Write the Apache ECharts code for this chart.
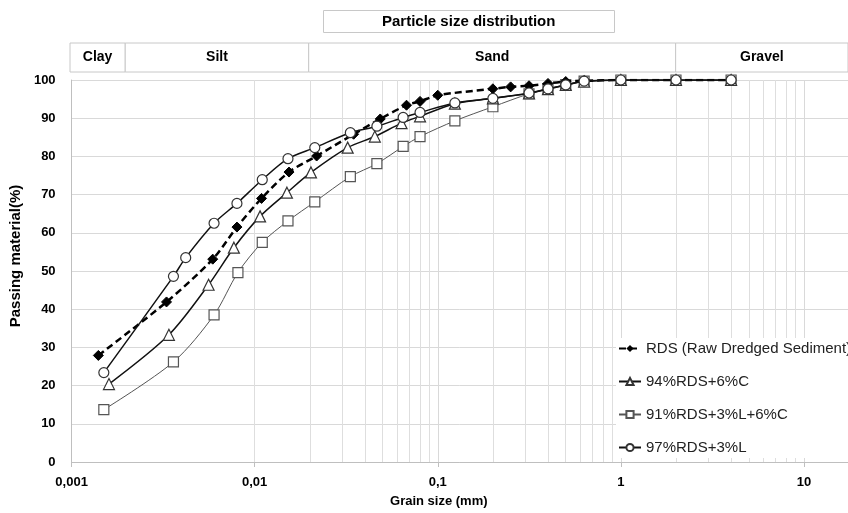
<!DOCTYPE html>
<html>
<head>
<meta charset="utf-8">
<script src="https://cdn.jsdelivr.net/npm/echarts@6/dist/echarts.min.js"></script>
<style>
  html, body { margin: 0; padding: 0; background: #fff; }
  #chart { width: 848px; height: 513px; }
</style>
</head>
<body>
<div id="chart"></div>
<script>
// grain size (mm) / passing (%)
const rdsX = [0.0014, 0.0033, 0.0059, 0.008, 0.0109, 0.0154, 0.0218, 0.0347, 0.0485, 0.0675, 0.08, 0.1, 0.2, 0.25, 0.315, 0.4, 0.5, 0.63, 1, 2, 4];
const rdsY = [27.9, 41.9, 53.1, 61.5, 69.0, 75.9, 80.1, 85.8, 89.8, 93.4, 94.4, 96.0, 97.7, 98.2, 98.5, 99.1, 99.6, 99.8, 100, 100, 100];

const cX = [0.0016, 0.0034, 0.0056, 0.0077, 0.0107, 0.015, 0.0203, 0.0322, 0.0453, 0.0634, 0.08, 0.124, 0.2, 0.315, 0.4, 0.5, 0.63, 1, 2, 4];
const cY = [20.4, 33.3, 46.4, 56.1, 64.3, 70.5, 75.8, 82.3, 85.2, 88.7, 90.5, 93.8, 95.2, 96.5, 97.6, 98.7, 99.6, 100, 100, 100];

const lcX = [0.0015, 0.0036, 0.006, 0.0081, 0.011, 0.0152, 0.0213, 0.0333, 0.0465, 0.0647, 0.08, 0.124, 0.2, 0.315, 0.4, 0.5, 0.63, 1, 2, 4];
const lcY = [13.7, 26.2, 38.5, 49.6, 57.5, 63.1, 68.1, 74.7, 78.1, 82.6, 85.2, 89.3, 93.0, 96.4, 97.7, 98.8, 99.7, 100, 100, 100];

const lX = [0.0015, 0.0036, 0.0042, 0.006, 0.008, 0.011, 0.0152, 0.0213, 0.0333, 0.0465, 0.0647, 0.08, 0.124, 0.2, 0.315, 0.4, 0.5, 0.63, 1, 2, 4];
const lY = [23.4, 48.6, 53.5, 62.5, 67.7, 73.9, 79.4, 82.3, 86.2, 87.9, 90.2, 91.5, 94.0, 95.2, 96.6, 97.7, 98.7, 99.7, 100, 100, 100];

const seriesNames = ["RDS (Raw Dredged Sediment)", "94%RDS+6%C", "91%RDS+3%L+6%C", "97%RDS+3%L"];

// soil classes: [from, to, name]
const classes = [
  [0.001, 0.002, "Clay"],
  [0.002, 0.02, "Silt"],
  [0.02, 2, "Sand"],
  [2, 20, "Gravel"]
];

const xMin = 0.001;
const xMax = 17.4;

// minor log grid lines 2..9 per decade
const minorGrid = [];
[0.001, 0.01, 0.1, 1, 10].forEach(d => {
  for (let k = 2; k <= 9; k++) {
    if (k * d < xMax) minorGrid.push(+(k * d).toPrecision(3));
  }
});

const zip = (xs, ys) => xs.map((x, i) => [x, ys[i]]);
const font = "Liberation Sans";

const chart = echarts.init(document.getElementById("chart"));

chart.setOption({
  animation: false,
  textStyle: { fontFamily: font },
  title: {
    text: "Particle size distribution",
    left: 323,
    top: 10,
    padding: [4, 59],
    borderColor: "#c8c8c8",
    borderWidth: 1,
    textStyle: { fontSize: 15, fontWeight: "bold", color: "#000", fontFamily: font }
  },
  legend: {
    orient: "vertical",
    left: 616,
    top: 338,
    z: 20,
    itemWidth: 22,
    itemHeight: 9,
    itemGap: 18,
    backgroundColor: "#fff",
    padding: [3, 2],
    textStyle: { fontSize: 15, color: "#222", fontFamily: font },
    data: seriesNames
  },
  grid: [
    { left: 70, right: 0, top: 80, bottom: 49 },
    { left: 70, right: 0, top: 43, height: 29 }
  ],
  xAxis: [
    {
      type: "log",
      logBase: 10,
      min: xMin,
      max: xMax,
      gridIndex: 0,
      name: "Grain size (mm)",
      nameLocation: "middle",
      nameGap: 33,
      nameTextStyle: { fontSize: 13, fontWeight: "bold", color: "#000", padding: [0, 42, 0, 0] },
      axisLine: { lineStyle: { color: "#bfbfbf" } },
      axisTick: { show: true, length: 5, lineStyle: { color: "#bfbfbf" } },
      axisLabel: {
        margin: 14,
        fontSize: 13,
        fontWeight: "bold",
        color: "#000",
        showMaxLabel: false,
        formatter: v => {
          const l = Math.log10(v);
          if (Math.abs(l - Math.round(l)) > 1e-6) return "";
          return String(+v.toPrecision(3)).replace(".", ",");
        }
      },
      splitLine: { show: true, lineStyle: { color: "#d9d9d9" } }
    },
    {
      type: "log",
      logBase: 10,
      min: xMin,
      max: xMax,
      gridIndex: 1,
      show: false
    }
  ],
  yAxis: [
    {
      type: "value",
      min: 0,
      max: 100,
      interval: 10,
      gridIndex: 0,
      name: "Passing material(%)",
      nameLocation: "middle",
      nameGap: 44,
      nameTextStyle: { fontSize: 15, fontWeight: "bold", color: "#000", padding: [0, 0, 0, 30] },
      axisLine: { show: true, lineStyle: { color: "#bfbfbf" } },
      axisTick: { show: false },
      axisLabel: { margin: 16, fontSize: 13, fontWeight: "bold", color: "#000" },
      splitLine: { show: true, lineStyle: { color: "#d9d9d9" } }
    },
    {
      type: "value",
      min: 0,
      max: 1,
      gridIndex: 1,
      show: false
    }
  ],
  series: [
    {
      name: "minor-grid",
      type: "line",
      data: [],
      silent: true,
      z: 1,
      markLine: {
        silent: true,
        symbol: "none",
        z: 1,
        label: { show: false },
        lineStyle: { color: "#dedede", type: "solid", width: 1 },
        data: minorGrid.map(v => ({ xAxis: v }))
      }
    },
    {
      name: "classes",
      type: "line",
      xAxisIndex: 1,
      yAxisIndex: 1,
      data: [],
      silent: true,
      markArea: {
        silent: true,
        itemStyle: { color: "#fff", borderColor: "#c8c8c8", borderWidth: 1 },
        label: {
          show: true,
          position: "inside",
          fontSize: 14,
          fontWeight: "bold",
          color: "#000",
          fontFamily: font
        },
        data: classes.map(c => [{ xAxis: c[0], name: c[2] }, { xAxis: c[1] }])
      }
    },
    {
      name: seriesNames[2],
      type: "line",
      smooth: 0.3,
      data: zip(lcX, lcY),
      symbol: "rect",
      symbolSize: 10,
      lineStyle: { color: "#555", width: 1 },
      itemStyle: { color: "#fff", borderColor: "#555", borderWidth: 1.2 },
      z: 3
    },
    {
      name: seriesNames[1],
      type: "line",
      smooth: 0.3,
      data: zip(cX, cY),
      symbol: "triangle",
      symbolSize: 11,
      lineStyle: { color: "#111", width: 1.5 },
      itemStyle: { color: "#fff", borderColor: "#333", borderWidth: 1.2 },
      z: 4
    },
    {
      name: seriesNames[0],
      type: "line",
      smooth: 0.3,
      data: zip(rdsX, rdsY),
      symbol: "diamond",
      symbolSize: 10,
      lineStyle: { color: "#000", width: 2.5, type: [7, 4] },
      itemStyle: { color: "#000", borderColor: "#000" },
      z: 5
    },
    {
      name: seriesNames[3],
      type: "line",
      smooth: 0.3,
      data: zip(lX, lY),
      symbol: "circle",
      symbolSize: 10,
      lineStyle: { color: "#111", width: 1.5 },
      itemStyle: { color: "#fff", borderColor: "#333", borderWidth: 1.2 },
      z: 6
    }
  ]
});
</script>
</body>
</html>
